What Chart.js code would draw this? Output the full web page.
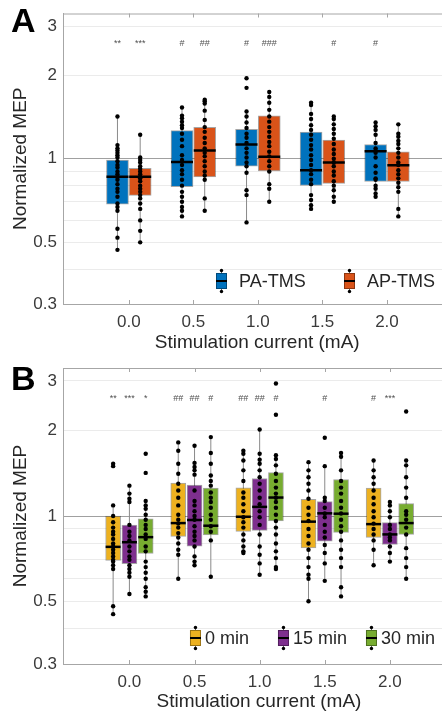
<!DOCTYPE html>
<html>
<head>
<meta charset="utf-8">
<script src="https://cdn.jsdelivr.net/npm/chart.js@4/dist/chart.umd.min.js"></script>
<style>
  html, body { margin: 0; padding: 0; background: #fff; overflow: hidden; }
  .panel { position: relative; width: 442px; height: 358px; overflow: hidden; }
  .panel canvas { display: block; }
</style>
</head>
<body>
<div class="panel"><canvas id="chartA" width="465" height="358"></canvas></div>
<div class="panel"><canvas id="chartB" width="465" height="358"></canvas></div>
<script>
// categories / ticks
const currents = [0.0, 0.5, 1.0, 1.5, 2.0];
const yGridValues = [0.3, 0.4, 0.5, 0.6, 0.7, 0.8, 0.9, 1, 2, 3];
const yTickLabels = [0.3, 0.5, 1, 2, 3];
const markLevel = 2.6;

// Panel A - PA-TMS
const paQ1 = [0.686, 0.793, 0.94, 0.801, 0.828];
const paMed = [0.862, 0.973, 1.125, 0.909, 1.065];
const paQ3 = [0.99, 1.262, 1.276, 1.248, 1.125];
const paLow = [0.47, 0.62, 0.59, 0.659, 0.725];
const paHigh = [1.415, 1.527, 1.48, 1.59, 1.347];
const paMarks = ["**", "#", "#", "", "#"];
const paPoints = [
  [1.42, 1.12, 1.09, 1.07, 1.05, 1.03, 1.01, 0.98, 0.95, 0.93, 0.90, 0.88, 0.86, 0.84, 0.81, 0.78, 0.76, 0.73, 0.69, 0.67, 0.65, 0.56, 0.52, 0.47],
  [1.53, 1.43, 1.40, 1.36, 1.32, 1.29, 1.23, 1.17, 1.11, 1.03, 0.99, 0.95, 0.91, 0.88, 0.84, 0.80, 0.76, 0.73, 0.70, 0.67, 0.65, 0.62],
  [1.95, 1.80, 1.48, 1.42, 1.35, 1.29, 1.23, 1.19, 1.14, 1.09, 1.05, 1.01, 0.97, 0.94, 0.89, 0.77, 0.74, 0.59],
  [1.59, 1.56, 1.45, 1.39, 1.32, 1.27, 1.22, 1.17, 1.12, 1.08, 1.03, 0.99, 0.95, 0.91, 0.88, 0.84, 0.81, 0.74, 0.71, 0.68, 0.66],
  [1.35, 1.31, 1.27, 1.22, 1.14, 1.09, 1.07, 1.05, 1.01, 0.94, 0.89, 0.85, 0.84, 0.80, 0.78, 0.75, 0.73]
];

// Panel A - AP-TMS
const apQ1 = [0.738, 0.861, 0.904, 0.815, 0.828];
const apMed = [0.862, 1.071, 1.017, 0.97, 0.947];
const apQ3 = [0.924, 1.297, 1.427, 1.168, 1.059];
const apLow = [0.498, 0.653, 0.701, 0.695, 0.622];
const apHigh = [1.22, 1.63, 1.74, 1.415, 1.331];
const apMarks = ["***", "##", "###", "#", ""];
const apPoints = [
  [1.22, 1.01, 0.99, 0.97, 0.94, 0.92, 0.90, 0.88, 0.86, 0.85, 0.83, 0.80, 0.78, 0.76, 0.74, 0.72, 0.69, 0.66, 0.60, 0.55, 0.50],
  [1.63, 1.61, 1.58, 1.49, 1.38, 1.30, 1.25, 1.19, 1.14, 1.09, 1.05, 1.02, 0.98, 0.94, 0.90, 0.87, 0.84, 0.72, 0.65],
  [1.74, 1.67, 1.59, 1.50, 1.42, 1.36, 1.30, 1.25, 1.20, 1.15, 1.11, 1.06, 1.02, 0.98, 0.94, 0.90, 0.81, 0.78, 0.70],
  [1.42, 1.39, 1.33, 1.28, 1.23, 1.18, 1.13, 1.08, 1.04, 1.00, 0.97, 0.94, 0.90, 0.87, 0.83, 0.80, 0.77, 0.73, 0.70],
  [1.33, 1.23, 1.20, 1.16, 1.13, 1.09, 1.05, 1.01, 0.97, 0.95, 0.91, 0.88, 0.85, 0.82, 0.79, 0.76, 0.66, 0.62]
];

// Panel B - 0 min
const m0Q1 = [0.697, 0.847, 0.882, 0.771, 0.84];
const m0Med = [0.778, 0.944, 0.994, 0.955, 0.936];
const m0Q3 = [1.0, 1.307, 1.258, 1.146, 1.255];
const m0Low = [0.447, 0.595, 0.74, 0.495, 0.673];
const m0High = [1.085, 1.823, 1.703, 1.548, 1.569];
const m0Marks = ["**", "##", "##", "", "#"];
const m0Points = [
  [1.53, 1.50, 1.09, 1.00, 0.95, 0.91, 0.88, 0.86, 0.83, 0.80, 0.78, 0.76, 0.74, 0.72, 0.70, 0.69, 0.67, 0.65, 0.48, 0.45],
  [1.82, 1.70, 1.53, 1.41, 1.30, 1.23, 1.16, 1.09, 1.01, 0.97, 0.94, 0.91, 0.87, 0.84, 0.80, 0.76, 0.73, 0.60],
  [1.70, 1.66, 1.57, 1.45, 1.33, 1.21, 1.16, 1.10, 1.04, 0.99, 0.95, 0.91, 0.86, 0.82, 0.78, 0.75, 0.74],
  [1.55, 1.45, 1.37, 1.30, 1.23, 1.15, 1.07, 1.01, 0.96, 0.90, 0.85, 0.80, 0.76, 0.71, 0.66, 0.62, 0.60, 0.50],
  [1.57, 1.45, 1.37, 1.30, 1.23, 1.16, 1.10, 1.04, 0.99, 0.94, 0.90, 0.86, 0.82, 0.76, 0.67]
];

// Panel B - 15 min
const m15Q1 = [0.679, 0.782, 0.89, 0.815, 0.793];
const m15Med = [0.808, 0.968, 1.077, 1.022, 0.861];
const m15Q3 = [0.929, 1.286, 1.357, 1.124, 0.947];
const m15Low = [0.532, 0.673, 0.62, 0.587, 0.686];
const m15High = [1.279, 1.77, 2.02, 1.502, 1.121];
const m15Marks = ["***", "##", "##", "#", "***"];
const m15Points = [
  [1.28, 1.20, 1.15, 1.12, 0.93, 0.88, 0.85, 0.82, 0.78, 0.75, 0.72, 0.70, 0.67, 0.65, 0.63, 0.61, 0.53],
  [1.77, 1.54, 1.49, 1.45, 1.40, 1.23, 1.13, 1.09, 1.04, 1.00, 0.97, 0.92, 0.88, 0.85, 0.82, 0.78, 0.72, 0.69, 0.67],
  [2.02, 1.66, 1.58, 1.53, 1.45, 1.37, 1.30, 1.23, 1.16, 1.10, 1.04, 0.99, 0.93, 0.86, 0.78, 0.73, 0.68, 0.62],
  [1.89, 1.50, 1.16, 1.13, 1.07, 1.02, 0.99, 0.93, 0.88, 0.84, 0.79, 0.74, 0.68, 0.59],
  [1.12, 1.09, 1.04, 0.99, 0.93, 0.90, 0.86, 0.84, 0.82, 0.78, 0.74, 0.69]
];

// Panel B - 30 min
const m30Q1 = [0.737, 0.858, 0.96, 0.875, 0.861];
const m30Med = [0.842, 0.924, 1.162, 1.019, 0.944];
const m30Q3 = [0.978, 1.255, 1.423, 1.346, 1.106];
const m30Low = [0.521, 0.612, 0.651, 0.521, 0.603];
const m30High = [1.131, 1.898, 1.635, 1.665, 1.569];
const m30Marks = ["*", "#", "#", "", ""];
const m30Points = [
  [1.66, 1.42, 1.13, 1.09, 1.06, 1.01, 0.97, 0.93, 0.90, 0.86, 0.83, 0.78, 0.75, 0.69, 0.66, 0.63, 0.60, 0.56, 0.54, 0.52],
  [1.90, 1.67, 1.53, 1.39, 1.33, 1.28, 1.21, 1.16, 1.12, 1.07, 1.01, 0.97, 0.92, 0.88, 0.82, 0.61],
  [2.94, 2.28, 1.64, 1.59, 1.51, 1.41, 1.33, 1.26, 1.20, 1.16, 1.12, 1.07, 1.01, 0.96, 0.91, 0.86, 0.80, 0.75, 0.71, 0.66, 0.65],
  [1.67, 1.62, 1.45, 1.33, 1.26, 1.20, 1.13, 1.07, 1.02, 0.97, 0.92, 0.88, 0.82, 0.76, 0.71, 0.66, 0.56, 0.52],
  [2.34, 1.57, 1.51, 1.37, 1.26, 1.16, 1.04, 1.01, 0.97, 0.91, 0.86, 0.77, 0.71, 0.66, 0.60]
];

const FONT = '"Liberation Sans", Arial, sans-serif';
const VIEW_W = 442; // visible width; plot runs on past the right edge like the original

function makeDatasets(series, barWidth) {
  let ds = [];
  series.forEach((s) => {
    let xs = currents.map((c) => c + s.offset);
    let whisker = [];
    xs.forEach((x, i) => {
      whisker.push({ x: x, y: s.low[i] }, { x: x, y: s.high[i] }, { x: x, y: null });
    });
    let pts = [];
    xs.forEach((x, i) => s.points[i].forEach((v) => pts.push({ x: x, y: v })));

    ds.push({
      type: "line", data: whisker, borderColor: "#8a8a8a", borderWidth: 1,
      pointRadius: 0, spanGaps: false, order: 4,
    });
    ds.push({
      type: "bar", label: s.label,
      data: xs.map((x, i) => ({ x: x, y: [s.q1[i], s.q3[i]] })),
      backgroundColor: s.color, borderColor: "rgba(0,0,0,0.35)", borderWidth: 1,
      borderSkipped: false, barThickness: barWidth, grouped: false, order: 3,
    });
    ds.push({
      type: "line", data: xs.map((x, i) => ({ x: x, y: s.med[i] })),
      showLine: false, pointStyle: "line", pointRadius: barWidth / 2,
      pointBorderColor: "#000", pointBorderWidth: 2.5, order: 2,
    });
    ds.push({
      type: "line", data: pts, showLine: false, pointRadius: 2.2,
      pointBackgroundColor: "#000", pointBorderColor: "#000", pointBorderWidth: 0, order: 1,
    });
  });
  return ds;
}

function makeExtras(panel) {
  return {
    id: "extras",
    afterDraw(chart) {
      const { ctx, chartArea: a, scales } = chart;
      const x = scales.x, y = scales.y;
      const right = Math.min(a.right, VIEW_W);
      ctx.save();
      // top frame + inward ticks
      ctx.strokeStyle = "#a6a6a6";
      ctx.lineWidth = 1;
      ctx.beginPath();
      ctx.moveTo(a.left, a.top + 0.5);
      ctx.lineTo(a.right, a.top + 0.5);
      currents.forEach((c) => {
        let px = Math.round(x.getPixelForValue(c)) + 0.5;
        ctx.moveTo(px, a.top);
        ctx.lineTo(px, a.top + 4);
        ctx.moveTo(px, a.bottom);
        ctx.lineTo(px, a.bottom - 4);
      });
      ctx.stroke();

      // significance marks
      ctx.fillStyle = "#505050";
      ctx.font = "9px " + FONT;
      ctx.textAlign = "center";
      ctx.textBaseline = "middle";
      panel.series.forEach((s) => {
        s.marks.forEach((m, i) => {
          if (m) ctx.fillText(m, x.getPixelForValue(currents[i] + s.offset), y.getPixelForValue(markLevel));
        });
      });

      // legend
      let n = panel.series.length;
      ctx.font = "18px " + FONT;
      let lastW = ctx.measureText(panel.series[n - 1].label).width;
      let ly = a.bottom - panel.legendDrop;
      let lx0 = right - 7 - lastW - 11 - panel.iconGap - (n - 1) * panel.legendCol;
      panel.series.forEach((s, i) => {
        let ix = lx0 + i * panel.legendCol;
        ctx.strokeStyle = "#666";
        ctx.lineWidth = 1;
        ctx.beginPath();
        ctx.moveTo(ix + 5.5, ly - 10.5);
        ctx.lineTo(ix + 5.5, ly + 10.5);
        ctx.stroke();
        ctx.fillStyle = "#000";
        [ly - 10.5, ly + 10.5].forEach((dy) => {
          ctx.beginPath();
          ctx.arc(ix + 5.5, dy, 1.7, 0, Math.PI * 2);
          ctx.fill();
        });
        ctx.fillStyle = s.color;
        ctx.fillRect(ix, ly - 8, 11, 16);
        ctx.strokeStyle = "rgba(0,0,0,0.35)";
        ctx.strokeRect(ix + 0.5, ly - 7.5, 10, 15);
        ctx.strokeStyle = "#000";
        ctx.lineWidth = 2;
        ctx.beginPath();
        ctx.moveTo(ix, ly);
        ctx.lineTo(ix + 11, ly);
        ctx.stroke();
        ctx.fillStyle = "#262626";
        ctx.textAlign = "left";
        ctx.textBaseline = "middle";
        ctx.fillText(s.label, ix + 11 + panel.iconGap, ly + 1);
      });

      // panel letter
      ctx.fillStyle = "#000";
      ctx.font = "bold 34px " + FONT;
      ctx.textAlign = "left";
      ctx.textBaseline = "top";
      ctx.fillText(panel.letter, 11, 6);
      ctx.restore();
    },
  };
}

function noPad(s) {
  s.paddingLeft = 0;
  s.paddingRight = 0;
  s.paddingTop = 0;
  s.paddingBottom = 0;
}

function drawPanel(canvasId, panel) {
  let ctx = document.getElementById(canvasId).getContext("2d");
  return new Chart(ctx, {
    type: "bar",
    data: { datasets: makeDatasets(panel.series, panel.barWidth) },
    options: {
      responsive: false,
      animation: false,
      layout: { padding: { top: panel.padTop, left: 0, right: 0, bottom: 0 } },
      plugins: { legend: { display: false }, tooltip: { enabled: false } },
      scales: {
        x: {
          type: "linear", min: -0.51, max: 2.5, offset: false,
          afterBuildTicks: (s) => { s.ticks = currents.map((v) => ({ value: v })); },
          afterFit: (s) => { s.height = panel.axisH; noPad(s); },
          ticks: {
            autoSkip: false, maxRotation: 0, padding: 8, color: "#3a3a3a",
            font: { family: FONT, size: 17 },
            callback: (v) => Number(v).toFixed(1),
          },
          grid: { drawOnChartArea: false, drawTicks: false },
          border: { display: true, color: "#a6a6a6" },
          title: {
            display: true, text: "Stimulation current (mA)", color: "#262626",
            font: { family: FONT, size: 19 }, padding: { top: 0, bottom: panel.titlePad },
          },
        },
        y: {
          type: "logarithmic", min: 0.3, max: 10 / 3,
          afterBuildTicks: (s) => { s.ticks = yGridValues.map((v) => ({ value: v })); },
          afterFit: (s) => { s.width = 63; noPad(s); },
          ticks: {
            autoSkip: false, padding: 6, color: "#3a3a3a",
            font: { family: FONT, size: 17 },
            callback: (v) => (yTickLabels.includes(v) ? String(v) : ""),
          },
          grid: {
            drawTicks: false,
            color: (c) => (c.tick && c.tick.value === 1 ? "#a0a0a0" : "#ebebeb"),
          },
          border: { display: true, color: "#a6a6a6" },
          title: {
            display: true, text: "Normalized MEP", color: "#262626",
            font: { family: FONT, size: 19 }, padding: { top: 9, bottom: 0 },
          },
        },
      },
    },
    plugins: [makeExtras(panel)],
  });
}

drawPanel("chartA", {
  letter: "A", barWidth: 22, padTop: 8, axisH: 54, titlePad: 4,
  legendDrop: 23, legendCol: 128, iconGap: 12,
  series: [
    { label: "PA-TMS", color: "#0072BD", offset: -0.088, q1: paQ1, med: paMed, q3: paQ3, low: paLow, high: paHigh, points: paPoints, marks: paMarks },
    { label: "AP-TMS", color: "#D95319", offset: 0.088, q1: apQ1, med: apMed, q3: apQ3, low: apLow, high: apHigh, points: apPoints, marks: apMarks },
  ],
});

drawPanel("chartB", {
  letter: "B", barWidth: 15, padTop: 9, axisH: 52, titlePad: 3,
  legendDrop: 26, legendCol: 88, iconGap: 4,
  series: [
    { label: "0 min", color: "#EDB120", offset: -0.125, q1: m0Q1, med: m0Med, q3: m0Q3, low: m0Low, high: m0High, points: m0Points, marks: m0Marks },
    { label: "15 min", color: "#7E2F8E", offset: 0, q1: m15Q1, med: m15Med, q3: m15Q3, low: m15Low, high: m15High, points: m15Points, marks: m15Marks },
    { label: "30 min", color: "#77AC30", offset: 0.125, q1: m30Q1, med: m30Med, q3: m30Q3, low: m30Low, high: m30High, points: m30Points, marks: m30Marks },
  ],
});
</script>
</body>
</html>
